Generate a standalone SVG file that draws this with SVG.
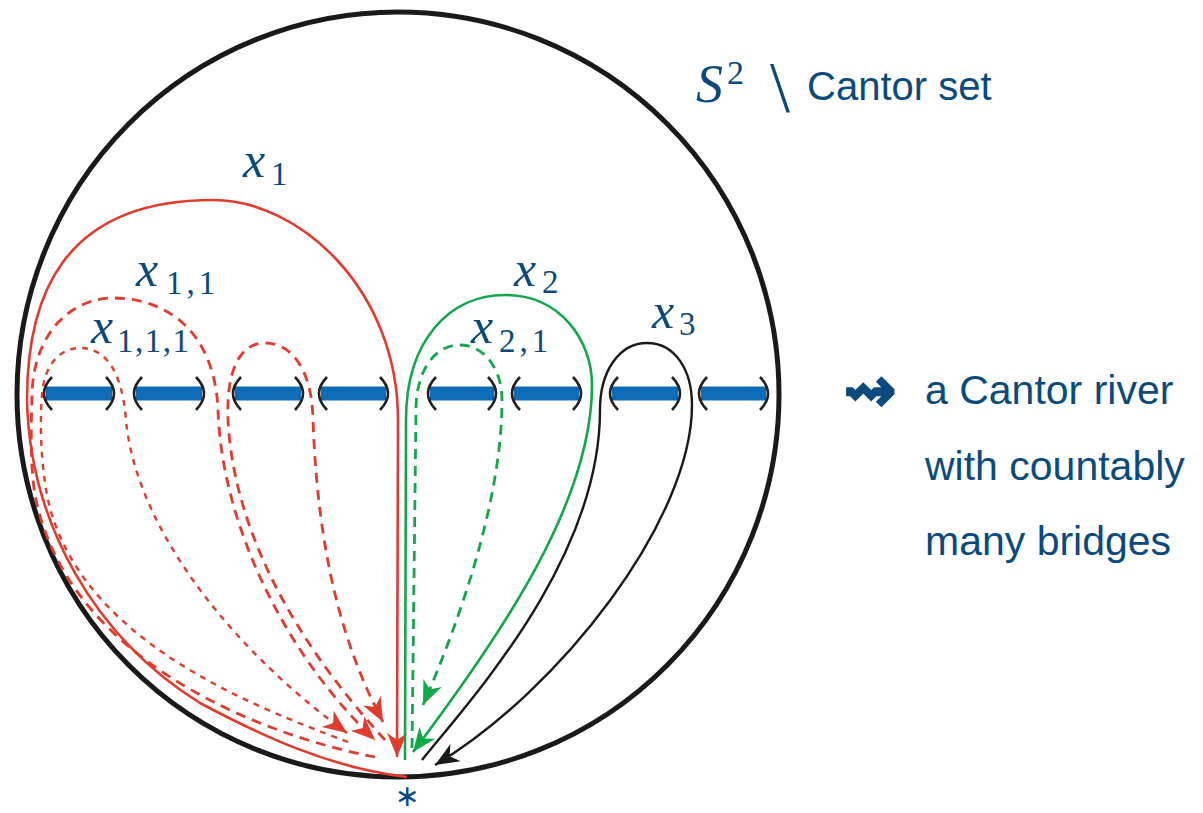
<svg xmlns="http://www.w3.org/2000/svg" width="1203" height="813" viewBox="0 0 1203 813">
<style>
.lbl{font-family:"Liberation Serif",serif;fill:#0c4a7d}
.it{font-style:italic}
.sans{font-family:"Liberation Sans",Arial,sans-serif;fill:#0c4a7d}
.bar{stroke:#0f6db8;stroke-width:14;fill:none}
.par{stroke:#222;stroke-width:2.6;fill:none}
.r{stroke:#e03c2e;stroke-width:2.6;fill:none}
.rd{stroke:#e03c2e;stroke-width:2.8;fill:none;stroke-dasharray:10 7}
.rs{stroke:#e03c2e;stroke-width:2.4;fill:none;stroke-dasharray:6 6}
.g{stroke:#14a64b;stroke-width:2.6;fill:none}
.gd{stroke:#14a64b;stroke-width:2.8;fill:none;stroke-dasharray:10 7}
.k{stroke:#1a1a1a;stroke-width:2.4;fill:none}
</style>
<defs>
<marker id="mr" markerUnits="userSpaceOnUse" markerWidth="30" markerHeight="26" viewBox="-28 -13 30 26" refX="0" refY="0" orient="auto"><path d="M0,0 L-24,-10 L-17,0 L-24,10 Z" fill="#e03c2e"/></marker>
<marker id="mg" markerUnits="userSpaceOnUse" markerWidth="30" markerHeight="26" viewBox="-28 -13 30 26" refX="0" refY="0" orient="auto"><path d="M0,0 L-24,-10 L-17,0 L-24,10 Z" fill="#14a64b"/></marker>
<marker id="mk" markerUnits="userSpaceOnUse" markerWidth="30" markerHeight="26" viewBox="-28 -13 30 26" refX="0" refY="0" orient="auto"><path d="M0,0 L-24,-10 L-17,0 L-24,10 Z" fill="#1a1a1a"/></marker>
</defs>

<g id="sphere">
<ellipse cx="398" cy="394.5" rx="381" ry="382.5" fill="none" stroke="#1a1a1a" stroke-width="5"/>
</g>

<g id="river">
<g class="bar">
<line x1="46" y1="393.5" x2="112" y2="393.5"/>
<line x1="136" y1="393.5" x2="202" y2="393.5"/>
<line x1="235" y1="393.5" x2="301" y2="393.5"/>
<line x1="321" y1="393.5" x2="386" y2="393.5"/>
<line x1="430" y1="393.5" x2="494" y2="393.5"/>
<line x1="514" y1="393.5" x2="579" y2="393.5"/>
<line x1="612" y1="393.5" x2="678" y2="393.5"/>
<line x1="701" y1="393.5" x2="766" y2="393.5"/>
</g>
<g class="par">
<path d="M52,377 Q36,393.5 52,410"/><path d="M106,377 Q122,393.5 106,410"/>
<path d="M142,377 Q126,393.5 142,410"/><path d="M196,377 Q212,393.5 196,410"/>
<path d="M241,377 Q225,393.5 241,410"/><path d="M295,377 Q311,393.5 295,410"/>
<path d="M327,377 Q311,393.5 327,410"/><path d="M380,377 Q396,393.5 380,410"/>
<path d="M436,377 Q420,393.5 436,410"/><path d="M488,377 Q504,393.5 488,410"/>
<path d="M520,377 Q504,393.5 520,410"/><path d="M573,377 Q589,393.5 573,410"/>
<path d="M618,377 Q602,393.5 618,410"/><path d="M672,377 Q688,393.5 672,410"/>
<path d="M707,377 Q691,393.5 707,410"/><path d="M760,377 Q776,393.5 760,410"/>
</g>
</g>

<g id="connectors">
<path id="loop-x1" class="r" marker-end="url(#mr)" d="M407,777 C330,768 260,735 200,703 A367,367 0 0 1 27,400 C27,300 60,200 213,200 C300,200 398,290 398,420 L397,757"/>
<path id="loop-x11" class="rd" marker-end="url(#mr)" d="M375,757 C260,735 70,660 36,500 C30,470 31,430 32,395 C33,335 70,298 113,298 C170,298 215,335 218,410 C222,530 290,660 375,740"/>
<path id="loop-x111" class="rs" marker-end="url(#mr)" d="M348,742 C250,705 80,640 48,500 C40,460 40,420 42,395 C44,365 60,348 80,348 C105,348 122,370 126,420 C135,520 220,640 347,733"/>
<path id="loop-x1b" class="rd" marker-end="url(#mr)" d="M385,740 C330,680 235,560 228,420 C226,370 240,343 265,343 C292,343 312,370 313,420 C318,560 345,650 383,722"/>
<path id="loop-x2" class="g" marker-end="url(#mg)" d="M405,760 L406,420 C406,340 450,295 505,295 C560,295 592,340 592,385 C592,500 505,630 413,752"/>
<path id="loop-x21" class="gd" marker-end="url(#mg)" d="M412,748 L416,410 C416,370 435,345 460,345 C485,345 502,370 502,400 C502,500 460,620 423,705"/>
<path id="loop-x3" class="k" marker-end="url(#mk)" d="M422,760 C470,700 600,560 600,410 C600,370 620,343 647,343 C675,343 692,370 692,405 C692,520 560,690 435,765"/>
</g>

<g id="labels">
<text id="lbl-x1" class="lbl"><tspan class="it" x="243" y="177" font-size="50">x</tspan><tspan x="271" y="185" font-size="33">1</tspan></text>
<text id="lbl-x11" class="lbl"><tspan class="it" x="136" y="286" font-size="50">x</tspan><tspan x="166" y="294" font-size="33" letter-spacing="4">1,1</tspan></text>
<text id="lbl-x111" class="lbl"><tspan class="it" x="91" y="343" font-size="50">x</tspan><tspan x="117" y="352" font-size="33" letter-spacing="1.5">1,1,1</tspan></text>
<text id="lbl-x2" class="lbl"><tspan class="it" x="514" y="286" font-size="50">x</tspan><tspan x="542" y="293" font-size="33">2</tspan></text>
<text id="lbl-x21" class="lbl"><tspan class="it" x="471" y="343" font-size="50">x</tspan><tspan x="499" y="352" font-size="33" letter-spacing="4">2,1</tspan></text>
<text id="lbl-x3" class="lbl"><tspan class="it" x="652" y="328" font-size="50">x</tspan><tspan x="679" y="335" font-size="33">3</tspan></text>
<text id="lbl-star" x="407" y="795" text-anchor="middle" dominant-baseline="central" font-family="DejaVu Sans,sans-serif" font-size="30" fill="#0c4a7d">∗</text>
</g>

<g id="title">
<text class="lbl"><tspan class="it" x="696" y="102" font-size="54">S</tspan><tspan x="727" y="84" font-size="34">2</tspan></text>
<text x="770" y="111" font-family="Liberation Serif,serif" font-size="72" fill="#0c4a7d">\</text>
<text class="sans" x="807" y="100" font-size="40">Cantor set</text>
</g>

<g id="legend">
<text x="843" y="412" font-family="DejaVu Sans,sans-serif" font-size="64" font-weight="bold" fill="#0c4a7d" stroke="#0c4a7d" stroke-width="1.5">⇝</text>
<text class="sans" x="925" y="404" font-size="41">a Cantor river</text>
<text class="sans" x="925" y="480" font-size="41">with countably</text>
<text class="sans" x="925" y="555" font-size="41">many bridges</text>
</g>
</svg>
